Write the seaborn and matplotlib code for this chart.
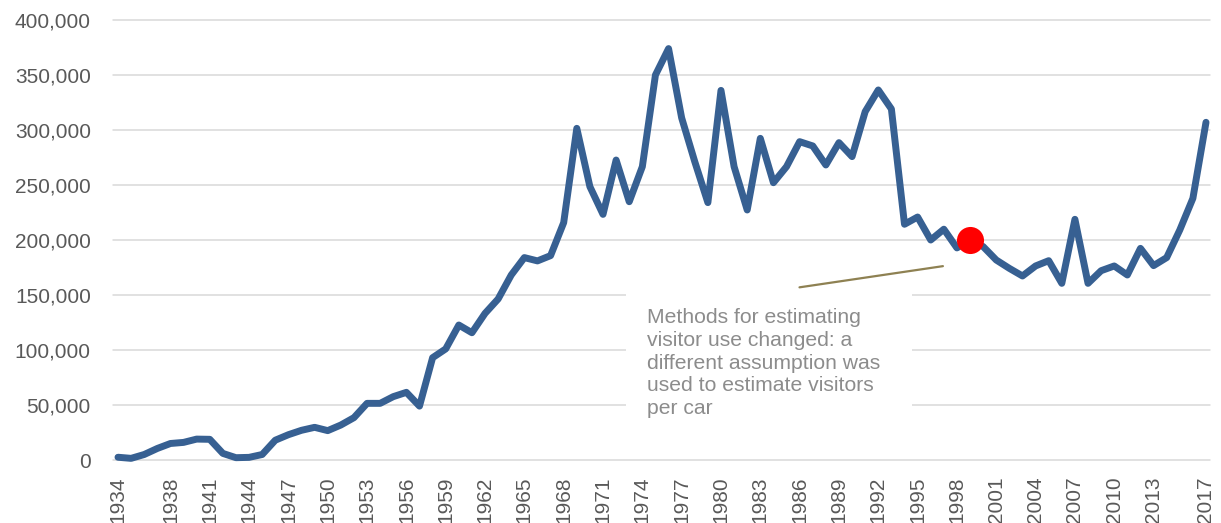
import matplotlib
matplotlib.use("Agg")
import matplotlib.pyplot as plt
from matplotlib.patches import Rectangle
from matplotlib.ticker import FuncFormatter
import seaborn as sns
import pandas as pd

years = list(range(1934, 2018))
visitors = [
    2500, 1500, 5000, 10500, 15000, 16000, 19000, 18800, 6000, 2100,      # 1934-1943
    2400, 5000, 18000, 23000, 27000, 29700, 26700, 31800, 38500, 51500,   # 1944-1953
    51500, 57600, 61500, 49000, 93000, 101000, 122700, 115700, 133300, 146400,  # 1954-1963
    168200, 184000, 181000, 185800, 215800, 301500, 248500, 223300, 272700, 234800,  # 1964-1973
    266700, 350000, 374000, 311000, 271200, 234000, 336000, 266700, 227300, 292400,  # 1974-1983
    252100, 266700, 289400, 285500, 268200, 288500, 275800, 316700, 336400, 319100,  # 1984-1993
    214300, 220900, 200000, 209800, 192800, 200000, 194000, 181800, 174200, 167300,  # 1994-2003
    176400, 181200, 160600, 218800, 160600, 172100, 176400, 168200, 192400, 176700,  # 2004-2013
    184000, 209100, 237900, 307000,                                         # 2014-2017
]
tick_years = [1934] + list(range(1938, 2014, 3)) + [2017]
y_ticks = list(range(0, 400001, 50000))
highlight_year = 1999
note_text = ("Methods for estimating\nvisitor use changed: a\ndifferent assumption was\n"
             "used to estimate visitors\nper car")

df = pd.DataFrame({"year": years, "visitors": visitors})

sns.set_style("white")
plt.rcParams["font.family"] = ["Liberation Sans", "DejaVu Sans"]

fig = plt.figure(figsize=(12.21, 5.23), dpi=100)
ax = fig.add_axes([113 / 1221, 1 - 460 / 523, (1210 - 113) / 1221, (460 - 20) / 523])

W = 13.108  # px per year
ax.set_xlim(1934 - 5 / W, 2017 + 4 / W)
ax.set_ylim(0, 400000)

for v in y_ticks:
    ax.axhline(v, color="#d9d9d9", lw=1.1, zorder=0, clip_on=False)

sns.lineplot(data=df, x="year", y="visitors", ax=ax, color="#376092",
             lw=5, zorder=3, clip_on=False, solid_joinstyle="round",
             solid_capstyle="round")

hv = visitors[years.index(highlight_year)]
ax.scatter([highlight_year], [hv], s=380, color="#ff0000", zorder=4,
           linewidths=0, clip_on=False)

# text box background
ax.add_patch(Rectangle((1972.76, 15000), 1994.57 - 1972.76, 156600 - 15000,
                       facecolor="white", edgecolor="none", zorder=1))
ax.text(1974.36, 137800, note_text, ha="left", va="top", fontsize=15.2,
        color="#8c8c8c", linespacing=1.24, zorder=2)
ax.annotate("", xy=(1997.14, 176600), xytext=(1985.78, 156600),
            arrowprops=dict(arrowstyle="-", color="#8e8152", lw=1.6),
            zorder=2)

ax.set_xticks(tick_years)
ax.set_xticklabels([str(y) for y in tick_years], rotation=90)
ax.set_yticks(y_ticks)
ax.yaxis.set_major_formatter(FuncFormatter(lambda v, p: f"{int(v):,}"))
ax.tick_params(axis="y", length=0, pad=16, labelsize=15, labelcolor="#595959")
ax.tick_params(axis="x", length=0, pad=12, labelsize=15, labelcolor="#595959")
ax.set_xlabel("")
ax.set_ylabel("")
for s in ax.spines.values():
    s.set_visible(False)
ax.grid(False)

fig.savefig("out.png", dpi=100)
